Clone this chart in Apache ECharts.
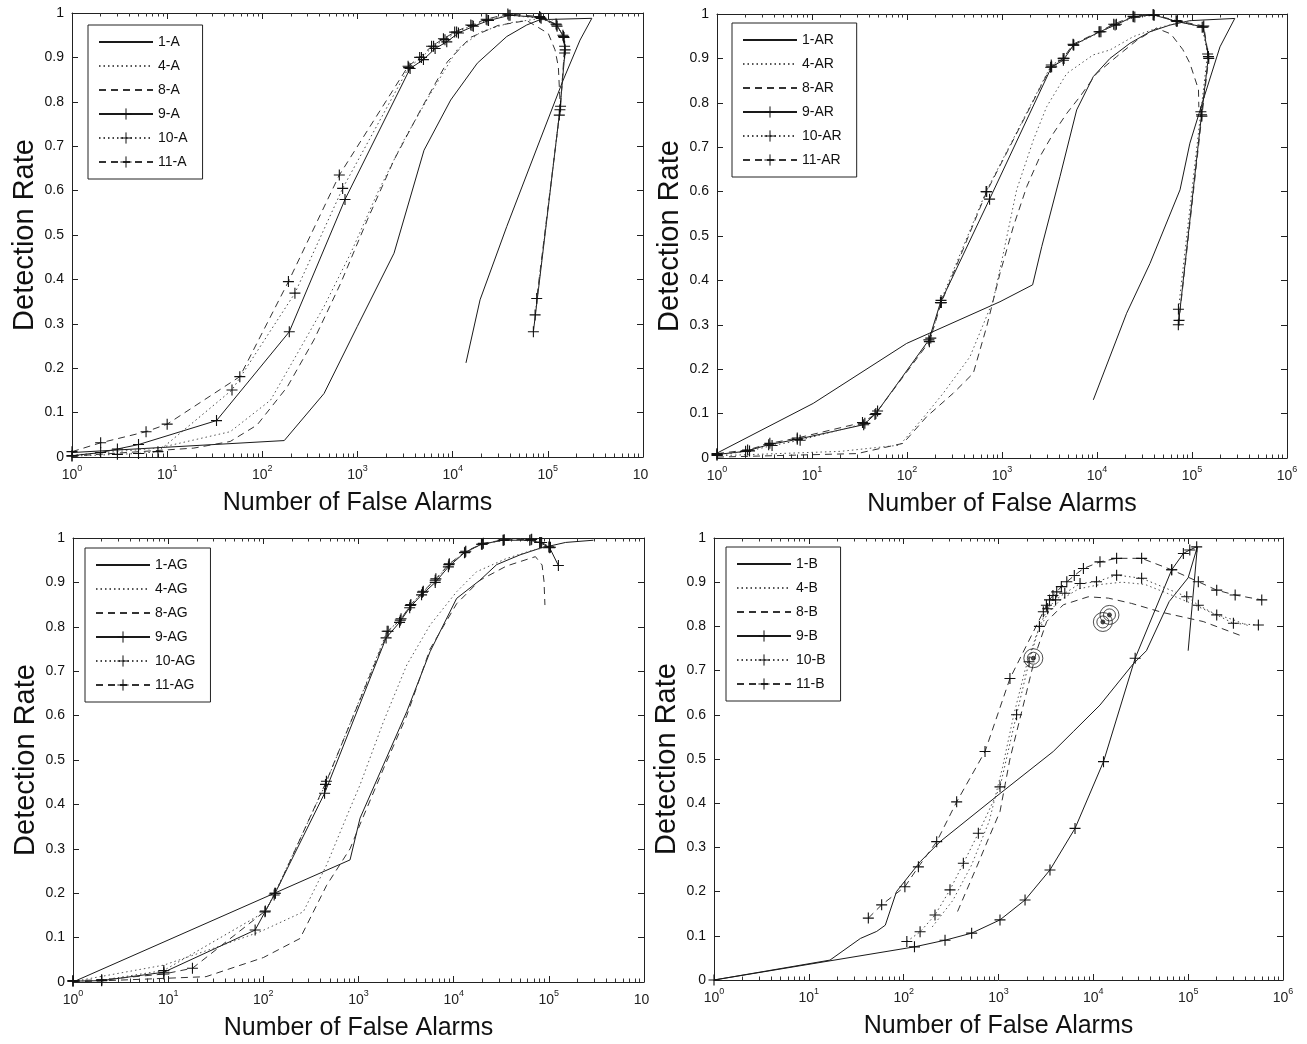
<!DOCTYPE html>
<html><head><meta charset="utf-8">
<script src="https://cdn.jsdelivr.net/npm/echarts@6/dist/echarts.min.js"></script>
<style>html,body{margin:0;padding:0;background:#fff}#c{width:1307px;height:1044px}</style>
</head><body><div id="c"></div>
<script>
// ---------------- data (false alarms, detection rate) ----------------
const xTickExponents = [0, 1, 2, 3, 4, 5, 6];
const minorMantissas = [2, 3, 4, 5, 6, 7, 8, 9];
const yTickStep = 0.1;
const seriesPrefixes = ['1', '4', '8', '9', '10', '11'];

// Panel A
const a1 = [[1,0.01],[170,0.037],[445,0.143],[995,0.294],[2420,0.459],[5000,0.691],[9530,0.804],[18150,0.887],[37000,0.947],[60000,0.973],[83000,0.985],[290000,0.988],[218000,0.939],[145000,0.849],[82800,0.714],[37000,0.519],[19400,0.354],[13800,0.212]];
const a4 = [[1,0.004],[8,0.02],[46,0.057],[122,0.128],[233,0.233],[445,0.339],[848,0.459],[1615,0.594],[3080,0.714],[5870,0.819],[11200,0.918],[20000,0.958],[40000,0.978],[80000,0.987],[120000,0.984]];
const a8 = [[1,0.002],[19,0.02],[46,0.035],[88,0.072],[183,0.158],[349,0.264],[665,0.391],[1268,0.534],[2420,0.669],[4610,0.782],[8790,0.89],[15400,0.945],[30000,0.972],[60000,0.983],[101000,0.954],[119000,0.917],[129000,0.879],[134000,0.804]];
const a9 = [[1,0.003],[2,0.01],[3,0.018],[5,0.028],[33,0.082],[192,0.282],[739,0.58],[3570,0.875],[4930,0.895],[6540,0.92],[8670,0.935],[11500,0.955],[16500,0.97],[23800,0.983],[40100,0.995],[83000,0.99],[124000,0.973],[146000,0.947],[152000,0.917],[134000,0.782],[70500,0.282]];
const a10 = [[1,0.002],[3,0.006],[5,0.008],[8,0.012],[48,0.151],[220,0.369],[698,0.605],[3450,0.877],[4700,0.9],[6300,0.925],[8300,0.94],[11000,0.957],[16000,0.972],[23000,0.984],[39000,0.995],[85000,0.988],[125000,0.97],[148000,0.945],[150000,0.91],[132000,0.77],[73500,0.32]];
const a11 = [[1,0.012],[2,0.032],[6,0.057],[10,0.074],[58,0.181],[188,0.395],[644,0.635],[3400,0.88],[4500,0.9],[6000,0.925],[8000,0.942],[10500,0.957],[15500,0.973],[22500,0.986],[38000,0.998],[82000,0.992],[122000,0.975],[144000,0.95],[150000,0.925],[136000,0.79],[76400,0.357]];

// Panel AR
const ar1 = [[1,0.011],[10.3,0.123],[99,0.258],[953,0.352],[2100,0.39],[2620,0.476],[4080,0.634],[6110,0.784],[9140,0.859],[13700,0.9],[22200,0.934],[36100,0.96],[58600,0.975],[95000,0.985],[282000,0.99],[197000,0.926],[131000,0.806],[95000,0.709],[74800,0.604],[36100,0.438],[20500,0.326],[9150,0.131]];
const ar4 = [[1,0.005],[20,0.015],[84,0.029],[161,0.1],[241,0.146],[460,0.228],[811,0.356],[1033,0.461],[1426,0.604],[2138,0.716],[2950,0.791],[4800,0.866],[9140,0.908],[13700,0.919],[24100,0.949],[42400,0.968],[69000,0.979],[103000,0.986]];
const ar8 = [[1,0.002],[30,0.01],[91,0.033],[161,0.093],[307,0.146],[499,0.191],[690,0.296],[953,0.416],[1316,0.521],[1820,0.611],[2510,0.679],[3470,0.731],[4800,0.776],[6620,0.814],[9900,0.866],[16100,0.904],[26000,0.94],[42400,0.968],[60000,0.955],[80000,0.92],[95000,0.889],[117000,0.83],[118000,0.79]];
const ar9 = [[1,0.008],[2,0.015],[3.5,0.03],[7,0.042],[35,0.075],[47,0.1],[170,0.266],[225,0.35],[740,0.583],[3330,0.881],[4430,0.896],[5640,0.93],[10700,0.96],[15500,0.975],[24100,0.994],[39200,0.998],[69200,0.983],[131000,0.971],[149000,0.904],[126000,0.773],[71800,0.30]];
const ar10 = [[1,0.006],[2.2,0.016],[3.8,0.028],[7.5,0.04],[36,0.078],[49,0.106],[178,0.27],[228,0.355],[680,0.6],[3300,0.885],[4500,0.9],[5700,0.93],[11000,0.96],[16000,0.977],[25000,0.993],[40000,0.997],[70000,0.984],[128000,0.97],[146000,0.91],[124000,0.78],[72000,0.335]];
const ar11 = [[1,0.01],[2.1,0.018],[3.6,0.033],[7,0.045],[34,0.08],[46,0.098],[172,0.262],[230,0.35],[690,0.6],[3250,0.88],[4400,0.9],[5600,0.932],[10500,0.96],[15000,0.977],[24000,0.995],[39000,0.999],[68000,0.985],[133000,0.973],[150000,0.9],[127000,0.77],[73000,0.31]];

// Panel AG
const ag1 = [[1,0.0],[815,0.275],[1038,0.369],[1827,0.489],[3216,0.609],[5650,0.744],[10750,0.864],[18900,0.905],[28300,0.94],[49800,0.962],[81000,0.977],[150000,0.99],[294000,0.995]];
const ag4 = [[1,0.001],[9,0.038],[30,0.076],[92,0.113],[263,0.158],[463,0.264],[815,0.391],[1038,0.444],[1827,0.586],[3216,0.714],[5650,0.804],[10750,0.879],[17400,0.924],[36000,0.954],[68700,0.973],[100000,0.98]];
const ag8 = [[1,0.0],[25,0.012],[100,0.055],[243,0.098],[463,0.218],[815,0.3],[1038,0.355],[1827,0.48],[3216,0.6],[5650,0.75],[10750,0.852],[18900,0.905],[36000,0.937],[72300,0.958],[85000,0.939],[89000,0.902],[91000,0.849]];
const ag9 = [[1,0.002],[2,0.003],[9,0.022],[82,0.117],[130,0.196],[440,0.425],[1950,0.775],[2700,0.81],[3450,0.843],[4600,0.872],[6400,0.9],[8800,0.935],[13000,0.967],[19600,0.986],[33000,0.995],[63000,0.995],[80000,0.99],[102000,0.978],[126000,0.938]];
const ag10 = [[1,0.002],[2,0.004],[9,0.026],[104,0.158],[132,0.2],[450,0.445],[2000,0.79],[2750,0.815],[3500,0.848],[4700,0.878],[6400,0.905],[8900,0.94],[13200,0.968],[20000,0.986],[33500,0.995],[65000,0.996],[82000,0.99],[100000,0.98]];
const ag11 = [[1,0.003],[2,0.005],[9,0.018],[18,0.031],[105,0.16],[134,0.2],[460,0.452],[2050,0.79],[2800,0.818],[3550,0.85],[4800,0.88],[6500,0.908],[9000,0.942],[13400,0.97],[20500,0.988],[34000,0.996],[66000,0.997],[84000,0.99],[104000,0.979]];

// Panel B
const b1 = [[1,0.0],[16.7,0.045],[35,0.094],[52,0.11],[64,0.124],[84,0.2],[150,0.268],[242,0.313],[1040,0.422],[3780,0.517],[6150,0.562],[11750,0.622],[26300,0.715],[36300,0.745],[63000,0.856],[100000,0.91],[125000,0.98],[100000,0.745]];
const b4 = [[200,0.12],[330,0.18],[520,0.26],[800,0.36],[1100,0.48],[1450,0.6],[1900,0.7],[2500,0.78],[3300,0.83],[4500,0.86],[7000,0.885],[12000,0.895],[20000,0.9],[35000,0.895],[60000,0.875],[100000,0.855],[180000,0.83],[300000,0.815],[450000,0.8]];
const b8 = [[370,0.155],[600,0.26],[813,0.328],[1037,0.381],[1320,0.5],[1980,0.652],[2510,0.743],[3220,0.811],[4830,0.849],[8830,0.867],[14400,0.864],[25300,0.852],[52600,0.832],[144000,0.811],[382000,0.777]];
const b9 = [[1,0.0],[130,0.075],[273,0.09],[521,0.106],[1037,0.136],[1905,0.181],[3490,0.249],[6410,0.343],[12800,0.494],[27600,0.728],[67000,0.928],[89000,0.965],[104000,0.973],[123000,0.98]];
const b10 = [[108,0.087],[149,0.109],[214,0.147],[308,0.204],[426,0.264],[613,0.332],[1037,0.437],[1550,0.6],[2100,0.72],[2700,0.8],[3300,0.84],[4000,0.86],[5000,0.875],[7240,0.897],[10800,0.901],[17600,0.916],[32300,0.909],[96600,0.867],[128000,0.848],[200000,0.826],[300000,0.807],[550000,0.803]];
const b11 = [[42.4,0.14],[58.6,0.17],[103,0.211],[143,0.256],[223,0.313],[362,0.403],[721,0.517],[1320,0.682],[2970,0.833],[3200,0.848],[3450,0.86],[3750,0.87],[4110,0.878],[4600,0.89],[5250,0.901],[6300,0.915],[7860,0.931],[11750,0.946],[17600,0.954],[32300,0.954],[67000,0.928],[128000,0.901],[200000,0.882],[313000,0.871],[597000,0.86]];
const bCircles = [[2330,0.728],[12600,0.81],[14800,0.826]];

// ---------------- layout / style ----------------
const FONT = '"Liberation Sans", Arial, Helvetica, sans-serif';
const INK = '#1a1a1a';
const PLUS = 'path://M0 5 L10 5 M5 0 L5 10';
const NOSYM = 'path://M0 0 L10 10';
const CLEAR = 'rgba(0,0,0,0)';
const panels = [
  {grid:{left:72, top:13, width:571, height:444}, suffix:'A', data:[a1,a4,a8,a9,a10,a11], legend:{left:88, top:25}, cutLast:true},
  {grid:{left:717, top:14, width:570, height:444}, suffix:'AR', data:[ar1,ar4,ar8,ar9,ar10,ar11], legend:{left:732, top:23}, cutLast:false},
  {grid:{left:73, top:538, width:571, height:444}, suffix:'AG', data:[ag1,ag4,ag8,ag9,ag10,ag11], legend:{left:85, top:548}, cutLast:true},
  {grid:{left:714, top:538, width:569, height:442}, suffix:'B', data:[b1,b4,b8,b9,b10,b11], legend:{left:726, top:547}, cutLast:false}
];
const lineStyles = [
  {type:'solid', plus:false, color:INK},
  {type:[1.5,3], plus:false, color:'#555'},
  {type:[7,5], plus:false, color:'#333'},
  {type:'solid', plus:true, color:INK},
  {type:[1.5,3], plus:true, color:'#444'},
  {type:[7,5], plus:true, color:'#333'}
];

const minorLogs = [];
for (let d = 0; d < 6; d++) for (const m of minorMantissas) minorLogs.push(Math.log10(m * Math.pow(10, d)));

const grids = [], xAxes = [], yAxes = [], legends = [], series = [];
panels.forEach((p, g) => {
  grids.push(Object.assign({containLabel:false}, p.grid));
  const cut = p.cutLast;
  const base = {gridIndex:g, splitLine:{show:false}, minorTick:{show:false}};
  xAxes.push(Object.assign({}, base, {
    type:'log', logBase:10, position:'bottom', min:Math.pow(10, xTickExponents[0]), max:Math.pow(10, xTickExponents[xTickExponents.length-1]),
    axisLine:{show:true, onZero:false, lineStyle:{color:'#222', width:1}},
    axisTick:{show:true, inside:true, length:6, lineStyle:{color:'#222', width:1}},
    axisLabel:{show:true, margin:7, formatter:function(v){
      const e = Math.round(Math.log10(v));
      if (cut && e === 6) return '{b|10}{h|6}';
      return '{b|10}{s|' + e + '}';
    }, rich:{
      b:{fontSize:14, fontFamily:FONT, color:'#222', lineHeight:18, verticalAlign:'bottom'},
      s:{fontSize:9, fontFamily:FONT, color:'#222', lineHeight:10, verticalAlign:'top'},
      h:{fontSize:9, fontFamily:FONT, color:CLEAR, lineHeight:10, verticalAlign:'top'}
    }},
    name:'Number of False Alarms', nameLocation:'middle', nameGap:34,
    nameTextStyle:{fontSize:25, fontFamily:FONT, color:'#111'}
  }));
  xAxes.push(Object.assign({}, base, {
    type:'log', logBase:10, position:'top', min:1, max:1e6,
    axisLine:{show:true, onZero:false, lineStyle:{color:'#222', width:1}},
    axisTick:{show:true, inside:true, length:6, lineStyle:{color:'#222', width:1}},
    axisLabel:{show:false}
  }));
  ['bottom','top'].forEach(pos => xAxes.push(Object.assign({}, base, {
    type:'value', position:pos, min:0, max:6,
    axisLine:{show:false, onZero:false},
    axisTick:{show:true, inside:true, length:3.5, customValues:minorLogs, lineStyle:{color:'#333', width:1}},
    axisLabel:{show:false}
  })));
  yAxes.push(Object.assign({}, base, {
    type:'value', position:'left', min:0, max:1, interval:yTickStep,
    axisLine:{show:true, onZero:false, lineStyle:{color:'#222', width:1}},
    axisTick:{show:true, inside:true, length:6, lineStyle:{color:'#222'}},
    axisLabel:{show:true, margin:8, fontSize:14, fontFamily:FONT, color:'#111',
      formatter:v => String(Math.round(v * 10) / 10)},
    name:'Detection Rate', nameLocation:'middle', nameGap:33,
    nameTextStyle:{fontSize:29, fontFamily:FONT, color:'#111'}
  }));
  yAxes.push(Object.assign({}, base, {
    type:'value', position:'right', min:0, max:1, interval:yTickStep,
    axisLine:{show:true, onZero:false, lineStyle:{color:'#222', width:1}},
    axisTick:{show:true, inside:true, length:6, lineStyle:{color:'#222'}},
    axisLabel:{show:false}
  }));
  const names = seriesPrefixes.map(pr => pr + '-' + p.suffix);
  legends.push({
    data:names.map((nm, i) => lineStyles[i].plus ? {name:nm} :
      {name:nm, itemStyle:{color:CLEAR, borderColor:CLEAR, borderWidth:0}}),
    orient:'vertical', left:p.legend.left, top:p.legend.top,
    itemWidth:54, itemHeight:14, itemGap:10, padding:[10,15,10,10],
    backgroundColor:'#fff', borderColor:'#222', borderWidth:1, selectedMode:false,
    textStyle:{fontSize:14, fontFamily:FONT, color:'#111'},
    itemStyle:{borderWidth:1}
  });
  names.forEach((nm, i) => {
    const st = lineStyles[i];
    series.push({
      name:nm, type:'line', xAxisIndex:4*g, yAxisIndex:2*g, data:p.data[i],
      symbol:st.plus ? PLUS : NOSYM, symbolSize:11, showSymbol:st.plus, symbolKeepAspect:true,
      lineStyle:{color:st.color, width:1, type:st.type},
      itemStyle:{color:st.plus ? st.color : CLEAR, borderColor:st.plus ? '#111' : CLEAR, borderWidth:st.plus ? 1.1 : 0},
      silent:true, z:2
    });
  });
});
// concentric circle markers in panel B
[{size:19, fill:CLEAR}, {size:12, fill:CLEAR}, {size:4, fill:'#222'}].forEach(c => {
  series.push({
    type:'scatter', xAxisIndex:12, yAxisIndex:6, data:bCircles, symbol:'circle', symbolSize:c.size,
    itemStyle:{color:c.fill, borderColor:'#222', borderWidth:1}, silent:true, z:3
  });
});

const chart = echarts.init(document.getElementById('c'), null, {renderer:'canvas'});
chart.setOption({
  animation:false, backgroundColor:'#fff',
  textStyle:{fontFamily:FONT},
  grid:grids, xAxis:xAxes, yAxis:yAxes, legend:legends, series:series
});
</script>
</body></html>
